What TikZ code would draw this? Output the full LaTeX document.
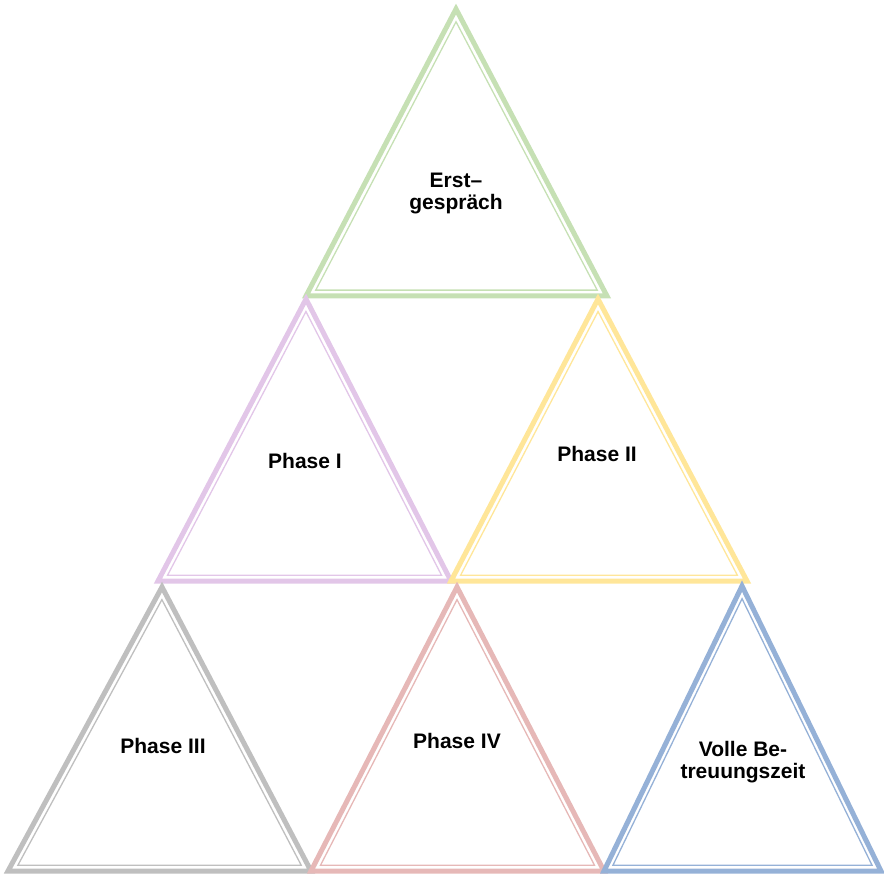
\documentclass[tikz,border=0pt]{standalone}
\usepackage{fontspec}
\setmainfont{Liberation Sans}
\usepackage{xcolor}
\usetikzlibrary{calc}

\definecolor{triGreen}{HTML}{C6E0B4}
\definecolor{triPurple}{HTML}{E2C6E8}
\definecolor{triYellow}{HTML}{FFE699}
\definecolor{triGray}{HTML}{BFBFBF}
\definecolor{triRed}{HTML}{E6B8B7}
\definecolor{triBlue}{HTML}{95B1D7}

% triangle with thick outer and thin inner line
\newcommand{\phasetri}[5]{%
  \coordinate (#1a) at (#3);
  \coordinate (#1l) at (#4);
  \coordinate (#1r) at (#5);
  \coordinate (#1m) at ($(#1l)!0.5!(#1r)$);
  \coordinate (#1c) at ($(#1m)!0.315!(#1a)$);
  \draw[outerline, draw=#2] (#1a) -- (#1l) -- (#1r) -- cycle;
  \draw[innerline, draw=#2] ($(#1c)!0.935!(#1a)$) -- ($(#1c)!0.935!(#1l)$) -- ($(#1c)!0.935!(#1r)$) -- cycle;
}

\begin{document}
\begin{tikzpicture}[
    x=1pt, y=-1pt,
    outerline/.style={line width=5pt, line join=miter},
    innerline/.style={line width=1.3pt, line join=miter},
    phase/.style={font=\fontsize{21}{22}\selectfont\bfseries, align=center, inner sep=0pt},
]
\useasboundingbox (0,0) rectangle (884,874);

\phasetri{erst}{triGreen}{456,9}{306,296}{607,296}
\phasetri{one}{triPurple}{306,299}{158,581}{451,581}
\phasetri{two}{triYellow}{598,299}{451,581}{747,581}
\phasetri{three}{triGray}{162,587}{8,871}{311,871}
\phasetri{four}{triRed}{457,587}{311,871}{604,871}
\phasetri{full}{triBlue}{742,586}{604,871}{881,871}

\node[phase] (erstT)  at (456,194) {Erst–\\gespräch};
\node[phase] (oneT)   at (305,461) {Phase I};
\node[phase] (twoT)   at (597,454) {Phase II};
\node[phase] (threeT) at (163,746) {Phase III};
\node[phase] (fourT)  at (457,741) {Phase IV};
\node[phase] (fullT)  at (743,762) {Volle Be-\\treuungszeit};
\end{tikzpicture}
\end{document}
